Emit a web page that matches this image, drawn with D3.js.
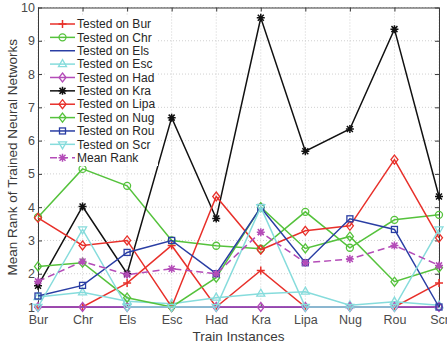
<!DOCTYPE html>
<head>
  <meta charset="utf-8">
  <script src="https://d3js.org/d3.v7.min.js"></script>
  <style>
body {
	margin:0;
	background:#fff;
	}
text {
	font-family: "Liberation Sans", Arial, sans-serif;
	}
.tick text {
	fill: #4a4a4a;
	font-size: 12.5px;
	}
.legText {
	font-size: 12px;
	fill: #262626;
	}
  </style>
</head>

<body>
  <div id="graph"></div>
<script>
// categories (train instances)
var trains = ["Bur","Chr","Els","Esc","Had","Kra","Lipa","Nug","Rou","Scr"];
var yTicks = [1,2,3,4,5,6,7,8,9,10];

// rank values, one array per test set
var onBur  = [1.0, 1.0, 1.72, 2.85, 1.0, 2.1, 1.0, 1.0, 1.0, 1.72];
var onChr  = [3.7, 5.15, 4.64, 3.0, 2.84, 2.75, 3.86, 2.78, 3.62, 3.77];
var onEls  = [1, 1, 1, 1, 1, 1, 1, 1, 1, 1];
var onEsc  = [1.3, 1.44, 1.17, 1.1, 1.28, 1.4, 1.46, 1.05, 1.16, 1.05];
var onHad  = [1, 1, 1, 1, 1, 1, 1, 1, 1, 1];
var onKra  = [1.64, 4.02, 2.0, 6.69, 3.66, 9.69, 5.68, 6.35, 9.35, 4.32];
var onLipa = [3.68, 2.85, 3.0, 1.0, 4.32, 2.72, 3.29, 3.44, 5.43, 3.08];
var onNug  = [2.22, 2.33, 1.28, 1.0, 1.88, 4.0, 2.76, 3.12, 1.76, 2.18];
var onRou  = [1.33, 1.65, 2.64, 3.0, 2.0, 3.99, 2.33, 3.65, 3.33, 1.0];
var onScr  = [1.0, 3.33, 1.0, 1.0, 1.0, 4.0, 1.0, 1.0, 1.0, 3.33];
var meanRank = [1.77, 2.37, 1.97, 2.15, 2.0, 3.25, 2.33, 2.44, 2.85, 2.25];

var red = "#e8302a", green = "#55c23c", blue = "#2a3ea4",
    cyan = "#86dcdc", mag = "#b44cb8", black = "#111";

var series = [
  {name: "Tested on Bur",  vals: onBur,  color: red,   mark: "plus"},
  {name: "Tested on Chr",  vals: onChr,  color: green, mark: "circle"},
  {name: "Tested on Els",  vals: onEls,  color: blue,  mark: "none"},
  {name: "Tested on Esc",  vals: onEsc,  color: cyan,  mark: "triUp"},
  {name: "Tested on Had",  vals: onHad,  color: mag,   mark: "diamond"},
  {name: "Tested on Kra",  vals: onKra,  color: black, mark: "star"},
  {name: "Tested on Lipa", vals: onLipa, color: red,   mark: "diamond"},
  {name: "Tested on Nug",  vals: onNug,  color: green, mark: "diamond"},
  {name: "Tested on Rou",  vals: onRou,  color: blue,  mark: "square"},
  {name: "Tested on Scr",  vals: onScr,  color: cyan,  mark: "triDown"},
  {name: "Mean Rank",      vals: meanRank, color: mag, mark: "star", dash: "7,4"}
];

var W = 447, H = 347;
var pLeft = 38, pRight = 439, pTop = 7.5, pBottom = 307;

var svg = d3.select("#graph").append("svg")
    .attr("width", W).attr("height", H);

var x = d3.scalePoint().domain(trains).range([pLeft, pRight]);
var y = d3.scaleLinear().domain([1, 10]).range([pBottom, pTop]);

// dotted grid
svg.append("g").selectAll("line").data(trains).enter().append("line")
    .attr("x1", d => x(d)).attr("x2", d => x(d))
    .attr("y1", pTop).attr("y2", pBottom)
    .style("stroke", "#d0d0d0").style("stroke-dasharray", "1,2");
svg.append("g").selectAll("line").data(yTicks).enter().append("line")
    .attr("x1", pLeft).attr("x2", pRight)
    .attr("y1", d => y(d)).attr("y2", d => y(d))
    .style("stroke", "#d0d0d0").style("stroke-dasharray", "1,2");

// axes (box with inward ticks)
svg.append("g").attr("transform", "translate(0," + pBottom + ")")
    .call(d3.axisBottom(x).tickSizeInner(-4).tickSizeOuter(0).tickPadding(8));
svg.append("g").attr("transform", "translate(" + pLeft + ",0)")
    .call(d3.axisLeft(y).tickValues(yTicks).tickSizeInner(-4).tickSizeOuter(0).tickPadding(3));
svg.append("g").attr("transform", "translate(0," + pTop + ")")
    .call(d3.axisTop(x).tickSizeInner(-4).tickSizeOuter(0).tickFormat(""));
svg.append("g").attr("transform", "translate(" + pRight + ",0)")
    .call(d3.axisRight(y).tickValues(yTicks).tickSizeInner(-4).tickSizeOuter(0).tickFormat(""));
svg.selectAll(".domain, .tick line").style("stroke", "#3a3a3a");

// axis titles
svg.append("text")
    .attr("x", (pLeft + pRight) / 2).attr("y", 341)
    .attr("text-anchor", "middle")
    .style("font-size", "13.5px").style("fill", "#3a3a3a")
    .text("Train Instances");
svg.append("text")
    .attr("transform", "translate(17," + ((pTop + pBottom) / 2) + ") rotate(-90)")
    .attr("text-anchor", "middle")
    .style("font-size", "13.5px").style("fill", "#3a3a3a")
    .text("Mean Rank of Trained Neural Networks");

// marker drawing
function drawMark(g, type, color) {
  if (type == "plus") {
    g.append("path").attr("d", "M-4,0H4M0,-4V4")
      .style("stroke", color).style("stroke-width", 1.5).style("fill", "none");
  } else if (type == "circle") {
    g.append("circle").attr("r", 3.5)
      .style("stroke", color).style("stroke-width", 1.3).style("fill", "none");
  } else if (type == "triUp") {
    g.append("path").attr("d", "M0,-4.5L4,2.5L-4,2.5Z")
      .style("stroke", color).style("stroke-width", 1.3).style("fill", "none");
  } else if (type == "triDown") {
    g.append("path").attr("d", "M0,4.5L4,-2.5L-4,-2.5Z")
      .style("stroke", color).style("stroke-width", 1.3).style("fill", "none");
  } else if (type == "diamond") {
    g.append("path").attr("d", "M0,-4.5L3.5,0L0,4.5L-3.5,0Z")
      .style("stroke", color).style("stroke-width", 1.3).style("fill", "none");
  } else if (type == "square") {
    g.append("rect").attr("x", -3).attr("y", -3).attr("width", 6).attr("height", 6)
      .style("stroke", color).style("stroke-width", 1.3).style("fill", "none");
  } else if (type == "star") {
    g.append("path").attr("d", "M-4,0H4M0,-4V4M-3,-3L3,3M-3,3L3,-3")
      .style("stroke", color).style("stroke-width", 1.5).style("fill", "none");
  }
}

var line = d3.line()
    .x((d, i) => x(trains[i]))
    .y(d => y(d));

series.forEach(function(s) {
  var g = svg.append("g");
  g.append("path").datum(s.vals)
      .attr("d", line)
      .style("fill", "none").style("stroke", s.color)
      .style("stroke-width", 1.5)
      .style("stroke-dasharray", s.dash || null);
  s.vals.forEach(function(v, i) {
    var m = g.append("g").attr("transform", "translate(" + x(trains[i]) + "," + y(v) + ")");
    drawMark(m, s.mark, s.color);
  });
});

// legend
var leg = svg.append("g");
leg.append("rect").attr("x", 46).attr("y", 16).attr("width", 112).attr("height", 150)
    .style("fill", "#fff");
series.forEach(function(s, i) {
  var ly = 24 + i * 13.37;
  leg.append("line").attr("x1", 50).attr("x2", 75).attr("y1", ly).attr("y2", ly)
      .style("stroke", s.color).style("stroke-width", 1.5)
      .style("stroke-dasharray", s.dash || null);
  drawMark(leg.append("g").attr("transform", "translate(62.5," + ly + ")"), s.mark, s.color);
  leg.append("text").attr("class", "legText")
      .attr("x", 77).attr("y", ly).attr("dy", "0.35em")
      .text(s.name);
});
</script>
</body>
